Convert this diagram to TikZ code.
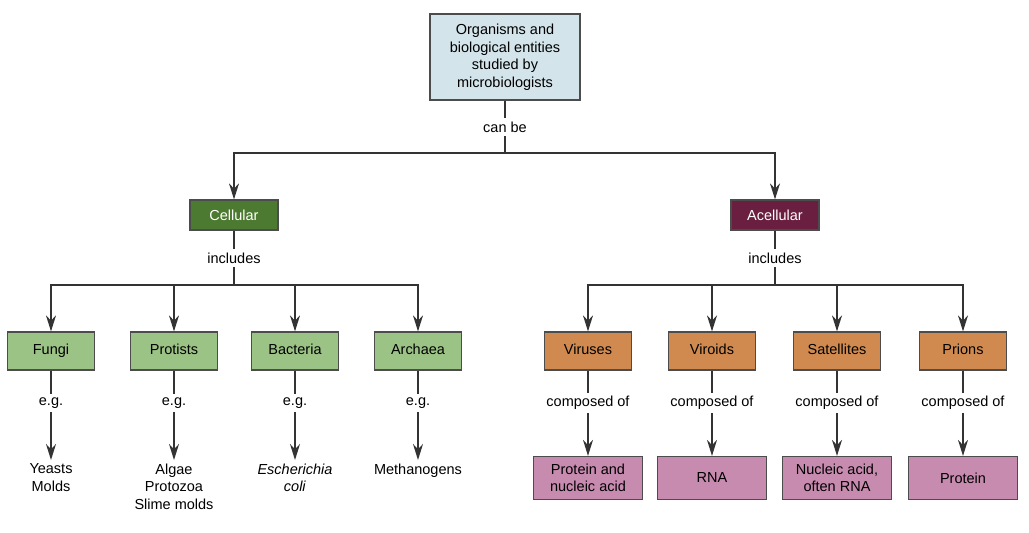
\documentclass[tikz,border=0pt]{standalone}
\usepackage{fontspec}
\setmainfont{Liberation Sans}
\usepackage{tikz}
\usetikzlibrary{arrows.meta,positioning,calc}
\definecolor{topblue}{HTML}{D3E4EA}
\definecolor{darkgreen}{HTML}{4C7A30}
\definecolor{lightgreen}{HTML}{9CC386}
\definecolor{wine}{HTML}{6A1E40}
\definecolor{ochre}{HTML}{D08A50}
\definecolor{mauve}{HTML}{C88BB0}
\tikzset{
	chart/.style={x=1pt, y=-1pt, line width=1.4pt, draw=black!80, font=\fontsize{14.5}{17.5}\selectfont},
	box/.style={draw=black!70, line width=1.2pt, align=center, inner sep=2pt},
	kind/.style={box, minimum width=88pt, minimum height=30pt, text=white},
	group/.style={box, minimum width=87pt, minimum height=38pt, text height=1.5ex, text depth=.3ex},
	stuff/.style={box, minimum width=109pt, minimum height=43pt, fill=mauve},
	word/.style={fill=white, inner sep=3pt, align=center},
	arr/.style={-{Stealth[length=16pt,width=10pt]}}
}
\begin{document}
\begin{tikzpicture}[chart]
   \useasboundingbox (0,0) rectangle (1029,533);
   \node[box, fill=topblue, minimum width=150pt, minimum height=86pt] (top) at (505,57)
      {Organisms and\\biological entities\\studied by\\microbiologists};
   \node[word] (canbe) at (505,127) {can be};
   \coordinate (j0) at (505,153);
   \node[kind, fill=darkgreen] (cell) at (234,215) {Cellular};
   \node[kind, fill=wine] (acell) at (775,215) {Acellular};
   \draw (top) -- (canbe) -- (j0);
   \draw[arr] (j0) -| (cell);
   \draw[arr] (j0) -| (acell);

   % cellular side
   \node[word] (incl) at (234,258) {includes};
   \coordinate (j1) at (234,285);
   \draw (cell) -- (incl) -- (j1);
   \foreach \n/\x/\t/\ex in {fungi/51/Fungi/{Yeasts\\Molds},
         protists/174/Protists/{Algae\\Protozoa\\Slime molds},
         bacteria/295/Bacteria/{\textit{Escherichia}\\\textit{coli}},
         archaea/418/Archaea/{Methanogens}} {
      \node[group, fill=lightgreen] (\n) at (\x,351) {\t};
      \node[word] (\n eg) at (\x,403) {e.g.};
      \node[word, anchor=north] (\n ex) at (\x,460) {\ex};
      \draw[arr] (j1) -| (\n);
      \draw (\n) -- (\n eg);
      \draw[arr] (\n eg) -- (\n ex);
   }

   % acellular side
   \node[word] (incr) at (775,258) {includes};
   \coordinate (j2) at (775,285);
   \draw (acell) -- (incr) -- (j2);
   \foreach \n/\x/\t/\ex in {viruses/588/Viruses/{Protein and\\nucleic acid},
         viroids/712/Viroids/{RNA},
         satellites/837/Satellites/{Nucleic acid,\\often RNA},
         prions/963/Prions/{Protein}} {
      \node[group, fill=ochre] (\n) at (\x,351) {\t};
      \node[word] (\n co) at (\x,403) {composed of};
      \node[stuff] (\n mat) at (\x,478) {\ex};
      \draw[arr] (j2) -| (\n);
      \draw (\n) -- (\n co);
      \draw[arr] (\n co) -- (\n mat);
   }
\end{tikzpicture}
\end{document}
